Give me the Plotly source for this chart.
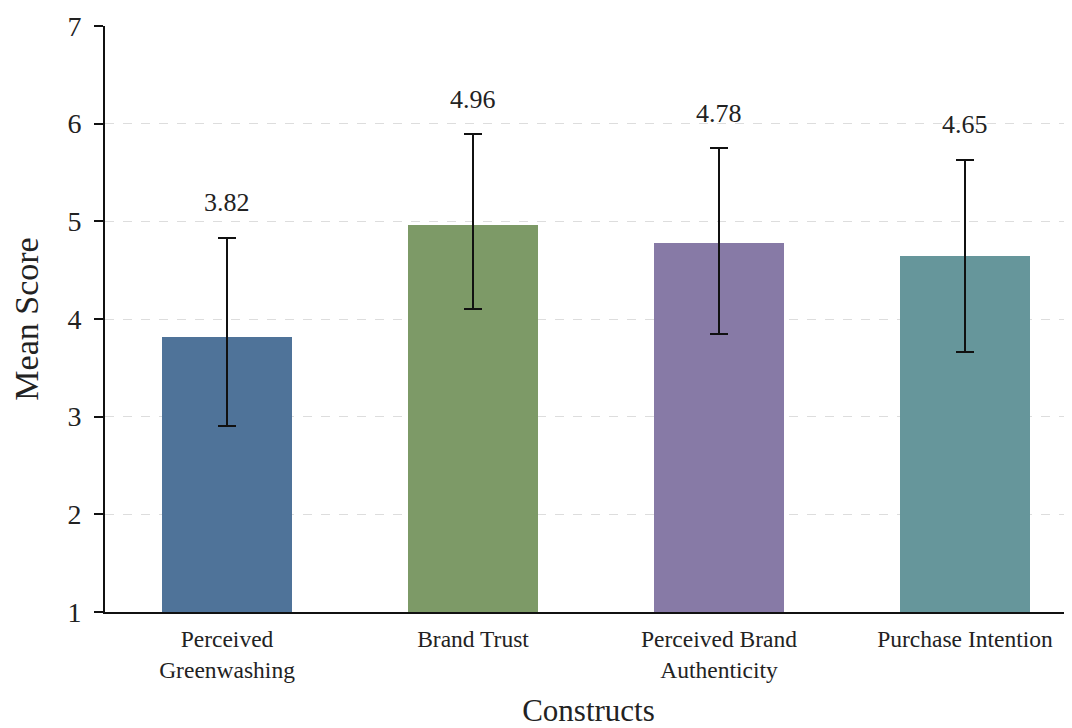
import plotly.graph_objects as go

categories = ["Perceived Greenwashing", "Brand Trust", "Perceived Brand Authenticity", "Purchase Intention"]
tick_labels = ["Perceived<br>Greenwashing", "Brand Trust", "Perceived Brand<br>Authenticity", "Purchase Intention"]
means = [3.82, 4.96, 4.78, 4.65]
err_plus = [1.01, 0.93, 0.97, 0.98]
err_minus = [0.92, 0.86, 0.93, 0.99]
colors = ["#4f7399", "#7d9a67", "#877aa6", "#66969b"]

FONT = "Liberation Serif, Times New Roman, serif"

fig = go.Figure()
fig.add_trace(go.Bar(
    x=categories,
    y=[m - 1 for m in means],
    base=1,
    width=0.525,
    marker=dict(color=colors, line=dict(width=0)),
    error_y=dict(type="data", symmetric=False, array=err_plus, arrayminus=err_minus,
                 color="#111111", thickness=2, width=9),
    showlegend=False,
))

for c, m, ep in zip(categories, means, err_plus):
    fig.add_annotation(x=c, y=m + ep, text=f"{m:.2f}", showarrow=False,
                       yanchor="middle", yshift=35,
                       font=dict(family=FONT, size=26, color="#222222"))

fig.update_layout(
    width=1064, height=720,
    margin=dict(l=97, r=0, t=18, b=107),
    paper_bgcolor="white", plot_bgcolor="white",
    font=dict(family=FONT, color="#222222"),
    bargap=0,
)
fig.update_xaxes(
    type="category",
    categoryorder="array", categoryarray=categories,
    tickmode="array", tickvals=categories, ticktext=tick_labels,
    range=[-0.496, 3.435],
    showline=True, linecolor="#111111", linewidth=2,
    ticks="", showgrid=False, zeroline=False,
    ticklabelstandoff=5,
    tickfont=dict(family=FONT, size=23.5, color="#222222"),
    title=dict(text="Constructs", font=dict(family=FONT, size=31, color="#222222"), standoff=24),
)
fig.update_yaxes(
    range=[1, 7], tickvals=[1, 2, 3, 4, 5, 6, 7],
    showline=True, linecolor="#111111", linewidth=2,
    ticks="outside", ticklen=9, tickwidth=2, tickcolor="#111111",
    ticklabelstandoff=7,
    showgrid=True, gridcolor="#dddddd", griddash="dash", gridwidth=1,
    zeroline=False,
    tickfont=dict(family=FONT, size=28, color="#222222"),
    title=dict(text="Mean Score", font=dict(family=FONT, size=34, color="#222222"), standoff=24),
)

fig.write_html("out.html")
